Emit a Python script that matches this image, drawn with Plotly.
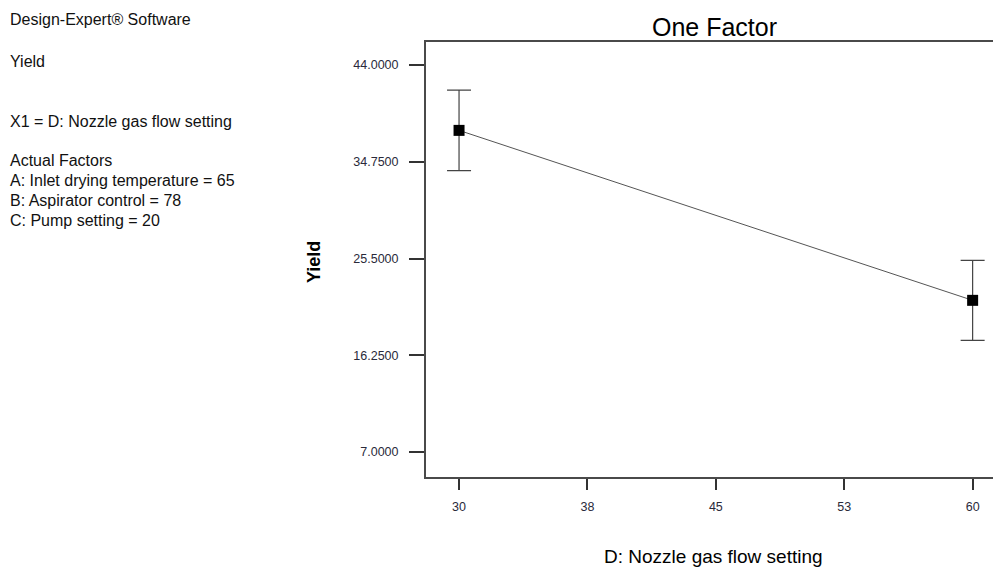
import plotly.graph_objects as go

# Data
factor_levels = [30, 60]
yield_pred = [37.75, 21.50]
yield_err = [3.85, 3.83]
x_tickvals = [30, 37.5, 45, 52.5, 60]
x_ticktext = ["30", "38", "45", "53", "60"]
y_tickvals = [7.0, 16.25, 25.5, 34.75, 44.0]
info_lines = [
    ("Design-Expert® Software", 20),
    ("Yield", 61),
    ("X1 = D: Nozzle gas flow setting", 121),
    ("Actual Factors", 160),
    ("A: Inlet drying temperature = 65", 180),
    ("B: Aspirator control = 78", 200),
    ("C: Pump setting = 20", 220),
]

W, H = 993, 569
L, T, B = 426, 42, 477
fig = go.Figure()
fig.add_trace(go.Scatter(
    x=factor_levels, y=yield_pred, mode="lines+markers",
    line=dict(color="#555555", width=1),
    marker=dict(symbol="square", size=11, color="black"),
    error_y=dict(type="data", array=yield_err, color="#444444", thickness=1.2, width=12),
    showlegend=False,
))

font = "Liberation Sans, Arial, sans-serif"
annotations = []
for text, ypix in info_lines:
    annotations.append(dict(
        text=text, xref="paper", yref="paper",
        x=(8 - L) / (W - L), y=1 - (ypix - T) / (B - T),
        xanchor="left", yanchor="middle", showarrow=False,
        font=dict(family=font, size=16, color="#111111"),
    ))
annotations.append(dict(
    text="One Factor", xref="paper", yref="paper",
    x=(714 - L) / (W - L), y=1 + (T - 27) / (B - T),
    xanchor="center", yanchor="middle", showarrow=False,
    font=dict(family=font, size=25, color="black"),
))
annotations.append(dict(
    text="<b>Yield</b>", xref="paper", yref="paper",
    x=(314 - L) / (W - L), y=1 - (262 - T) / (B - T),
    xanchor="center", yanchor="middle", showarrow=False, textangle=-90,
    font=dict(family=font, size=18, color="black"),
))
annotations.append(dict(
    text="D: Nozzle gas flow setting", xref="paper", yref="paper",
    x=(713 - L) / (W - L), y=-(556 - B) / (B - T),
    xanchor="center", yanchor="middle", showarrow=False,
    font=dict(family=font, size=19, color="black"),
))

fig.update_layout(
    width=W, height=H,
    margin=dict(l=L, r=0, t=T, b=H - B),
    paper_bgcolor="white", plot_bgcolor="white",
    annotations=annotations,
    xaxis=dict(
        range=[28.07, 61.19], tickvals=x_tickvals, ticktext=x_ticktext,
        showgrid=False, zeroline=False, showline=True, linecolor="#4a4a4a", linewidth=2,
        mirror=True, ticks="outside", ticklen=11, tickcolor="#333333", tickwidth=1.5,
        ticklabelstandoff=6,
        tickfont=dict(family=font, size=12.5, color="#2a2a3a"),
    ),
    yaxis=dict(
        range=[4.61, 46.2], tickvals=y_tickvals, tickformat=".4f",
        showgrid=False, zeroline=False, showline=True, linecolor="#4a4a4a", linewidth=2,
        ticks="outside", ticklen=15, tickcolor="#333333", tickwidth=1.5,
        ticklabelstandoff=8,
        tickfont=dict(family=font, size=12.5, color="#2a2a3a"),
    ),
)

fig.write_html(
    "out.html",
    config={"displayModeBar": False},
    post_script="document.body.style.margin='0';document.body.style.overflow='hidden';",
)
